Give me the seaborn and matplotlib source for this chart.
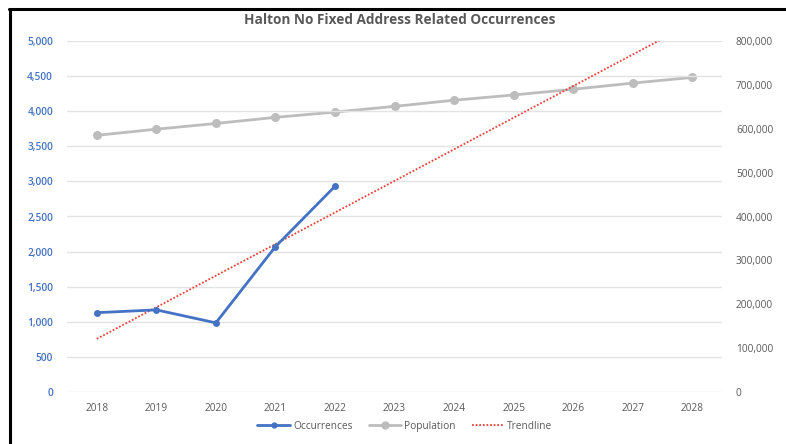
import numpy as np
import pandas as pd
import matplotlib
matplotlib.use("Agg")
import matplotlib.pyplot as plt
import seaborn as sns
from matplotlib.lines import Line2D
from matplotlib.ticker import FuncFormatter, MultipleLocator

sns.set_theme(style="white")
plt.rcParams["font.family"] = ["Open Sans", "DejaVu Sans"]

years = ["2018", "2019", "2020", "2021", "2022", "2023", "2024", "2025", "2026", "2027", "2028"]
occurrences = [1130, 1170, 985, 2070, 2930]
population = [585000, 599000, 612000, 626000, 638000, 651000, 665000, 677000, 690000, 704000, 717000]

BLUE = "#4472C4"
GREY = "#BDBDBD"
RED = "#E8413C"
TEXT = "#595959"

pos = np.arange(len(years))
occ_df = pd.DataFrame({"pos": pos[:len(occurrences)], "value": occurrences})
pop_df = pd.DataFrame({"pos": pos, "value": population})

# Linear trendline fitted to the occurrence counts, projected across all years
slope, intercept = np.polyfit(occ_df["pos"], occ_df["value"], 1)
trend_df = pd.DataFrame({"pos": [pos[0], pos[-1]],
                         "value": [intercept + slope * pos[0], intercept + slope * pos[-1]]})

fig = plt.figure(figsize=(7.86, 4.44), dpi=100)
ax = fig.add_axes([67 / 786, 1 - 392 / 444, (722 - 67) / 786, (392 - 41) / 444])
ax2 = ax.twinx()

# Population on the secondary axis
sns.lineplot(data=pop_df, x="pos", y="value", ax=ax2, color=GREY, linewidth=2.0,
             marker="o", markersize=6.5, markeredgewidth=0, legend=False)

# Occurrences and trendline on the primary axis
sns.lineplot(data=trend_df, x="pos", y="value", ax=ax, color=RED, linewidth=1.3,
             linestyle=(0, (1, 1)), legend=False)
sns.lineplot(data=occ_df, x="pos", y="value", ax=ax, color=BLUE, linewidth=2.0,
             marker="o", markersize=5, markeredgewidth=0, legend=False)

ax.set_zorder(ax2.get_zorder() + 1)
ax.patch.set_visible(False)

ax.set_xlim(-0.5, len(years) - 0.5)
ax.set_ylim(0, 5000)
ax2.set_ylim(0, 800000)
ax.yaxis.set_major_locator(MultipleLocator(500))
ax2.yaxis.set_major_locator(MultipleLocator(100000))
ax.yaxis.set_major_formatter(FuncFormatter(lambda v, p: f"{int(v):,}"))
ax2.yaxis.set_major_formatter(FuncFormatter(lambda v, p: f"{int(v):,}"))
ax.set_xticks(pos)
ax.set_xticklabels(years)

ax.grid(axis="y", color="#E3E3E3", linewidth=1)
ax.grid(axis="x", visible=False)
ax2.grid(False)
for a in (ax, ax2):
    for s in a.spines.values():
        s.set_visible(False)
    a.set_xlabel("")
    a.set_ylabel("")

ax.tick_params(axis="y", length=0, pad=10, labelsize=7.3, labelcolor=BLUE)
ax.tick_params(axis="x", length=0, pad=8, labelsize=7.3, labelcolor=TEXT)
ax2.tick_params(axis="y", length=0, pad=10, labelsize=7.3, labelcolor=TEXT)
for lbl in ax.get_yticklabels():
    lbl.set_fontweight("semibold")

fig.text(400 / 786, 1 - 20 / 444, "Halton No Fixed Address Related Occurrences",
         ha="center", va="center", fontsize=9.8, fontweight="bold", color=TEXT)

handles = [
    Line2D([], [], color=BLUE, linewidth=2.0, marker="o", markersize=4.5, markeredgewidth=0),
    Line2D([], [], color=GREY, linewidth=2.0, marker="o", markersize=6, markeredgewidth=0),
    Line2D([], [], color=RED, linewidth=1.3, linestyle=(0, (1, 1))),
]
fig.legend(handles, ["Occurrences", "Population", "Trendline"], loc="center",
           bbox_to_anchor=(405 / 786, 1 - 426 / 444), ncol=3, frameon=False,
           fontsize=7.3, labelcolor=TEXT, handlelength=3.2, handletextpad=0.3,
           columnspacing=1.6)

# Frame edges along the top and left
fig.add_artist(Line2D([9.5 / 786, 9.5 / 786], [0, 1 - 9 / 444], color="black",
                      linewidth=2.2, transform=fig.transFigure))
fig.add_artist(Line2D([8.5 / 786, 1], [1 - 9.5 / 444, 1 - 9.5 / 444], color="black",
                      linewidth=2.2, transform=fig.transFigure))

fig.savefig("out.png", dpi=100, facecolor="white")
